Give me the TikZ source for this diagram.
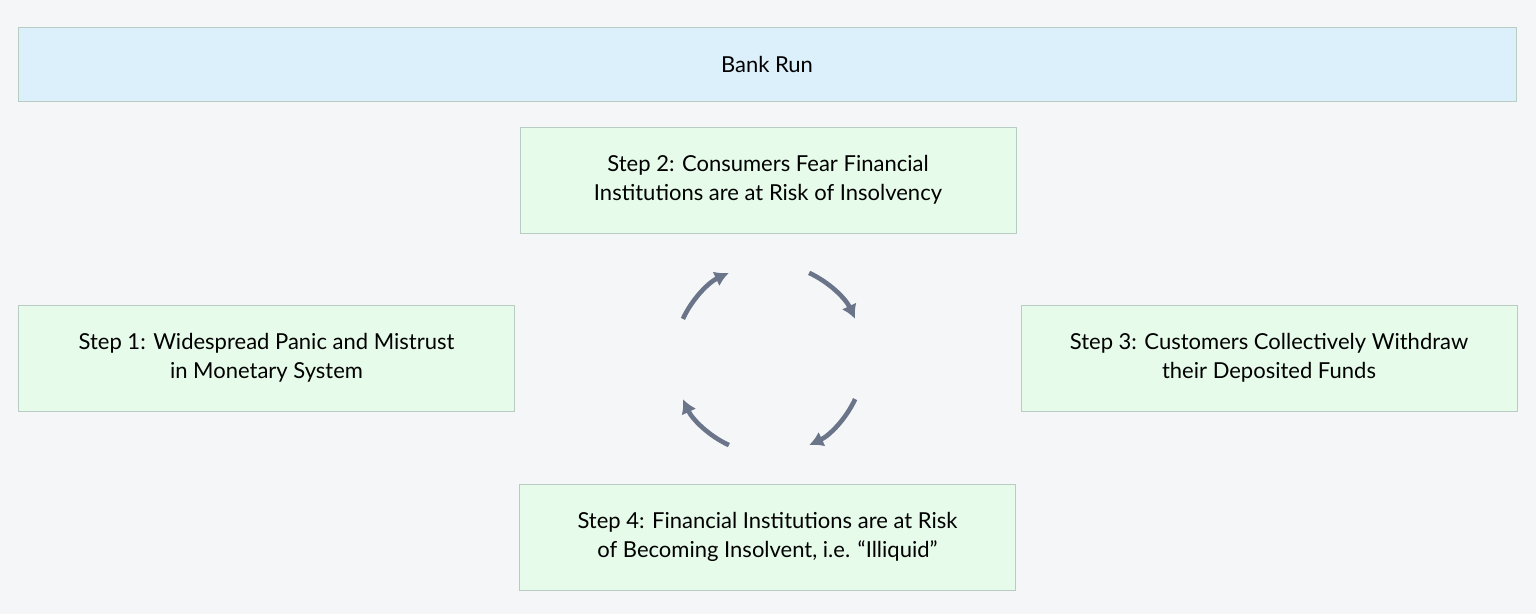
\documentclass[tikz,border=0pt]{standalone}
\usepackage{fontspec}
\setmainfont{Lato}
\usetikzlibrary{arrows.meta}
\definecolor{bgpage}{HTML}{F5F6F8}
\definecolor{stepfill}{HTML}{E6FBE9}
\definecolor{titlefill}{HTML}{DCF0FB}
\definecolor{boxline}{HTML}{B9CCC4}
\definecolor{cyclearrow}{HTML}{6B7589}
\tikzset{
  stepbox/.style={draw=boxline, fill=stepfill, minimum width=248pt, minimum height=53pt,
    align=center, font=\fontsize{11}{14.5}\selectfont, inner sep=0pt},
  titlebox/.style={draw=boxline, fill=titlefill, minimum width=749pt, minimum height=37pt,
    font=\fontsize{11}{14.5}\selectfont},
  cyclearc/.style={draw=cyclearrow, line width=2.3pt, -{Latex[length=7pt,width=8pt]}}
}
\begin{document}
\begin{tikzpicture}[x=0.5pt,y=-0.5pt]
	\fill[bgpage] (0,0) rectangle (1536,614);
	\node[titlebox] (title) at (767,64) {Bank Run};
	\node[stepbox] (step2) at (768,180) {Step 2: Consumers Fear Financial\\Institutions are at Risk of Insolvency};
	\node[stepbox] (step1) at (266.5,358) {Step 1: Widespread Panic and Mistrust\\in Monetary System};
	\node[stepbox] (step3) at (1269,358) {Step 3: Customers Collectively Withdraw\\their Deposited Funds};
	\node[stepbox] (step4) at (767.5,537) {Step 4: Financial Institutions are at Risk\\of Becoming Insolvent, i.e. ``Illiquid''};
	% cycle arrows around the hub
	\coordinate (hub) at (769,359);
	\foreach \a in {-155,-65,25,115}
		\draw[cyclearc] ([shift={(\a:95)}]hub) arc[start angle=\a, end angle=\a+40, radius=95];
\end{tikzpicture}
\end{document}
